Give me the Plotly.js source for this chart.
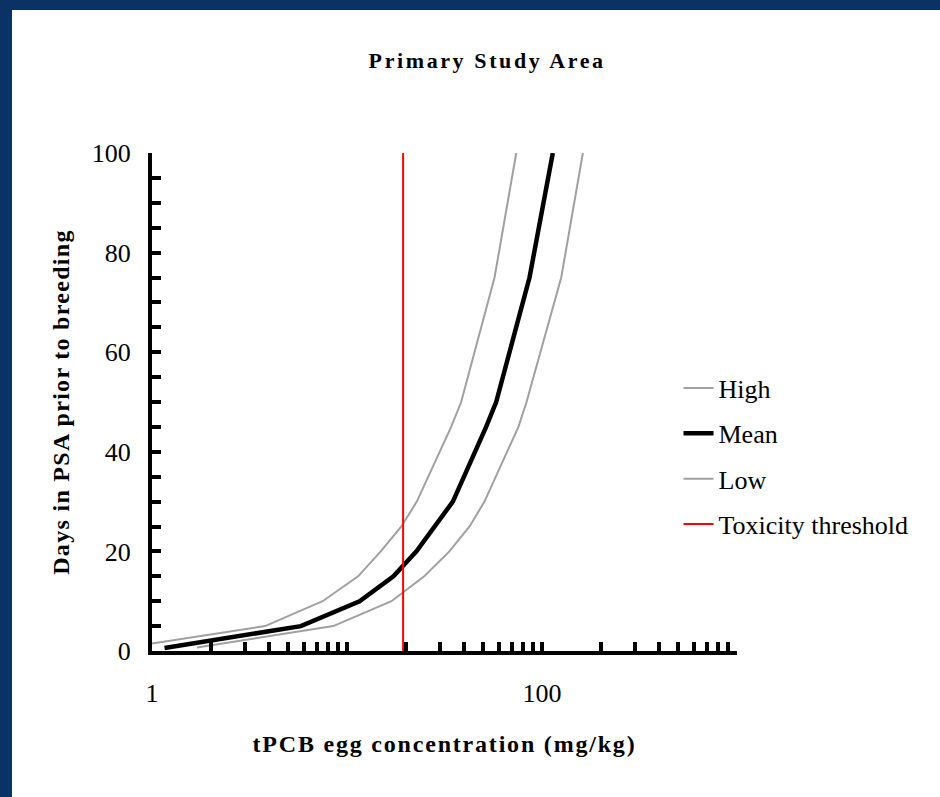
<!DOCTYPE html>
<html>
<head>
<meta charset="utf-8">
<script src="https://cdn.plot.ly/plotly-3.0.1.min.js"></script>
<style>
  html, body { margin: 0; padding: 0; width: 940px; height: 797px; background: #0b3264; overflow: hidden; }
  #chart { position: absolute; left: 12px; top: 10px; width: 928px; height: 787px; background: #fff; }
  .gtitle { letter-spacing: 2.6px; }
  .xtitle { letter-spacing: 1.8px; }
  .ytitle { letter-spacing: 1.3px; }
</style>
</head>
<body>
<div id="chart"></div>
<script>
// ---- data ----
const seriesNames = ['High', 'Mean', 'Low', 'Toxicity threshold'];

const concHigh = [1.0, 3.8, 7.5, 11.4, 14.9, 19.0, 22.8, 34.2, 38.5, 57.1, 73.8];
const daysHigh = [1.5, 5, 10, 15, 20, 25, 30, 45, 50, 75, 100];

const concMean = [1.16, 5.8, 11.6, 17.3, 22.7, 28.3, 34.9, 51.7, 58.2, 86.3, 113.6];
const daysMean = [0.6, 5, 10, 15, 20, 25, 30, 45, 50, 75, 100];

const concLow = [1.7, 8.5, 16.9, 24.9, 33.5, 42.5, 50.7, 75.7, 83.3, 125.5, 162];
const daysLow = [0.7, 5, 10, 15, 20, 25, 30, 45, 50, 75, 100];

const thresholdConc = [19.4, 19.4];
const thresholdDays = [0, 100];

const xTickVals = [1, 2, 3, 4, 5, 6, 7, 8, 9,
                   10, 20, 30, 40, 50, 60, 70, 80, 90,
                   100, 200, 300, 400, 500, 600, 700, 800, 900, 1000];
const xTickText = ['1', '', '', '', '', '', '', '', '',
                   '', '', '', '', '', '', '', '', '',
                   '100', '', '', '', '', '', '', '', '', ''];
const yTickVals = [0, 20, 40, 60, 80, 100];
const yTickText = ['0', '20', '40', '60', '80', '100'];

const chartTitle = 'Primary Study Area';
const xTitle = 'tPCB egg concentration (mg/kg)';
const yTitle = 'Days in PSA prior to breeding';

// ---- traces ----
const serif = '"Liberation Serif", "Times New Roman", serif';
const traces = [
  { x: concHigh, y: daysHigh, name: seriesNames[0], legendgroup: 'g1', mode: 'lines',
    line: { color: '#a0a0a0', width: 2 } },
  { x: concMean, y: daysMean, name: seriesNames[1], legendgroup: 'g2', mode: 'lines',
    line: { color: '#000000', width: 4.5 } },
  { x: concLow, y: daysLow, name: seriesNames[2], legendgroup: 'g3', mode: 'lines',
    line: { color: '#a0a0a0', width: 2 } },
  { x: thresholdConc, y: thresholdDays, name: seriesNames[3], legendgroup: 'g4', mode: 'lines',
    line: { color: '#ff0000', width: 2 } }
];

const layout = {
  width: 928, height: 787,
  paper_bgcolor: '#ffffff', plot_bgcolor: '#ffffff',
  margin: { l: 140, r: 203, t: 143, b: 146, pad: 0 },
  font: { family: serif, color: '#000' },
  title: { text: chartTitle, font: { family: serif, size: 22, weight: 'bold', color: '#000' },
           x: 0.512, xref: 'container', xanchor: 'center', y: 0.936, yref: 'container', yanchor: 'middle' },
  xaxis: {
    type: 'log', range: [0, 3],
    tickmode: 'array', tickvals: xTickVals, ticktext: xTickText,
    ticks: 'inside', ticklen: 9, tickwidth: 4, tickcolor: '#000',
    showline: true, linewidth: 4, linecolor: '#000',
    showgrid: false, zeroline: false,
    tickfont: { family: serif, size: 26, color: '#000' },
    ticklabelstandoff: 16,
    title: { text: xTitle, font: { family: serif, size: 24, weight: 'bold', color: '#000' }, standoff: 29 }
  },
  yaxis: {
    range: [0, 100],
    tickmode: 'array', tickvals: yTickVals, ticktext: yTickText,
    ticks: 'inside', ticklen: 9, tickwidth: 4, tickcolor: '#000',
    minor: { dtick: 5, ticks: 'inside', ticklen: 9, tickwidth: 4, tickcolor: '#000', showgrid: false },
    showline: true, linewidth: 4, linecolor: '#000',
    showgrid: false, zeroline: false,
    tickfont: { family: serif, size: 26, color: '#000' },
    ticklabelstandoff: 12,
    title: { text: yTitle, font: { family: serif, size: 24, weight: 'bold', color: '#000' }, standoff: 16 }
  },
  showlegend: true,
  legend: {
    x: 0.9, xanchor: 'left', xref: 'paper',
    y: 0.575, yanchor: 'top', yref: 'paper',
    traceorder: 'grouped', tracegroupgap: 8.5,
    font: { family: serif, size: 26, color: '#000' },
    bgcolor: 'rgba(0,0,0,0)', borderwidth: 0
  }
};

Plotly.newPlot('chart', traces, layout, { staticPlot: true, displayModeBar: false });
</script>
</body>
</html>
